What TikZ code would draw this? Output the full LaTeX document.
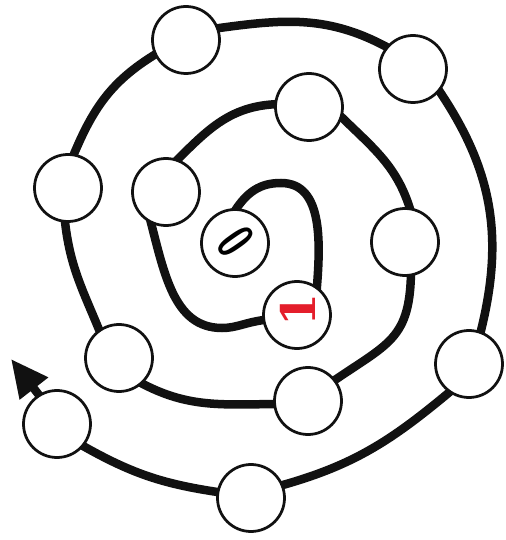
\documentclass[tikz,border=0pt]{standalone}
\usepackage{fontspec}
\usepackage{xcolor}
\usepackage{graphicx}
\usepackage{tikz}
\usetikzlibrary{arrows.meta,backgrounds}
\newfontfamily\slabfont{DejaVu Serif}
\definecolor{Ink}{HTML}{111111}
\definecolor{MarkRed}{HTML}{E41E2B}

\begin{document}
\begin{tikzpicture}[
    x=0.2mm,y=0.2mm,
    stone/.style={circle,draw=Ink,line width=0.55mm,fill=white,minimum size=13.4mm,inner sep=0pt},
    spiral/.style={line width=1.7mm,draw=Ink,shorten <=-2mm,shorten >=-2mm},
    digit/.style={inner sep=0pt}
]
\useasboundingbox (0,0) rectangle (506,540);
% stones, from the centre outwards
\node[stone] (n0) at (235,297) {};
\node[stone] (n1) at (297,225) {};
\node[stone] (n2) at (166,348) {};
\node[stone] (n3) at (309,433) {};
\node[stone] (n4) at (405,298) {};
\node[stone] (n5) at (308,139) {};
\node[stone] (n6) at (119,182) {};
\node[stone] (n7) at (68,352) {};
\node[stone] (n8) at (186,500) {};
\node[stone] (n9) at (413,471) {};
\node[stone] (n10) at (469,176) {};
\node[stone] (n11) at (251,42) {};
\node[stone] (n12) at (57,116) {};
\coordinate (bend0) at (281,357);
\coordinate (bend1) at (222,212);
\coordinate (tip) at (11,181);
\node[digit,rotate=-55,font=\sffamily\bfseries\fontsize{30}{32}\selectfont] (zero) at (236,298) {\scalebox{0.64}[1]{0}};
\node[digit,rotate=90,text=MarkRed,font=\slabfont\bfseries\fontsize{27}{29}\selectfont] (one) at (298,230) {1};

\begin{scope}[on background layer]
\draw[spiral] (n0.88) to[out=60,in=180] (bend0) to[out=0,in=85] (n1.55);
\draw[spiral] (n1.188) to[out=185,in=0] (bend1) to[out=180,in=-75] (n2.245);
\draw[spiral] (n2.70) to[out=45,in=180] (n3.175);
\draw[spiral] (n3.-18) to[out=-45,in=105] (n4.82);
\draw[spiral] (n4.-80) to[out=-90,in=35,looseness=1.3] (n5.38);
\draw[spiral] (n5.185) to[out=180,in=-30] (n6.-48);
\draw[spiral] (n6.125) to[out=112,in=-85] (n7.-95);
\draw[spiral] (n7.80) to[out=68,in=210] (n8.205);
\draw[spiral] (n8.20) to[out=8,in=150] (n9.140);
\draw[spiral] (n9.-40) to[out=-55,in=75] (n10.70);
\draw[spiral] (n10.-125) to[out=-140,in=15] (n11.22);
\draw[spiral] (n11.170) to[out=172,in=-30] (n12.-40);
\draw[spiral,shorten >=0pt,-{Triangle[length=7.5mm,width=6.8mm]}] (n12.122) -- (tip);
\end{scope}
\end{tikzpicture}
\end{document}
